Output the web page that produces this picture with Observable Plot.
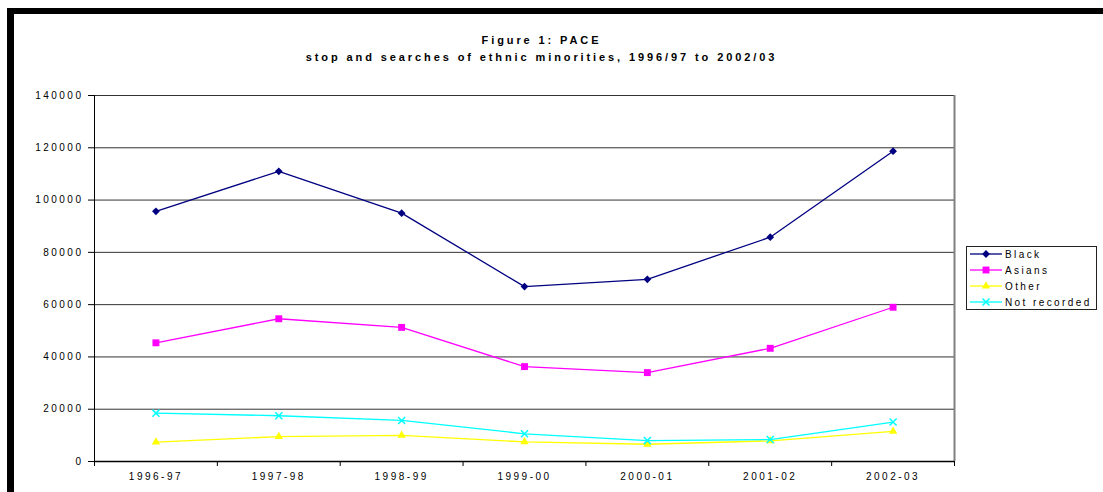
<!DOCTYPE html>
<html><head><meta charset="utf-8">
<script src="https://cdn.jsdelivr.net/npm/d3@7"></script>
<script src="https://cdn.jsdelivr.net/npm/@observablehq/plot@0.6"></script>
<style>
body{margin:0;background:#fff;}
#wrap{position:relative;width:1103px;height:492px;overflow:hidden;font-family:Arial,"Liberation Sans",sans-serif;background:#fff;}
#frame{position:absolute;left:7px;top:8px;right:-20px;bottom:-20px;border-top:6px solid #000;border-left:7px solid #000;}
#title{position:absolute;left:0;top:32px;width:1083px;text-align:center;font-weight:bold;font-size:11px;line-height:17px;letter-spacing:2.9px;color:#000;}
#chart{position:absolute;left:0;top:0;}
#chart svg text{letter-spacing:2.5px;}
#legend{position:absolute;left:966px;top:246px;width:129px;height:62px;border:1px solid #222;background:#fff;}
#legend svg text{letter-spacing:2.4px;}
</style></head>
<body>
<div id="wrap">
  <div id="frame"></div>
  <div id="chart"></div>
  <div id="title">Figure 1: PACE<br>stop and searches of ethnic minorities, 1996/97 to 2002/03</div>
  <div id="legend"></div>
</div>
<script>
const years = ["1996-97","1997-98","1998-99","1999-00","2000-01","2001-02","2002-03"];
const black = [95700,111000,95000,66900,69700,85800,118700];
const asians = [45400,54600,51300,36300,34000,43300,59000];
const other = [7400,9500,10000,7500,6600,7900,11500];
const notRecorded = [18500,17500,15700,10600,8000,8400,15100];
const yTicks = [0,20000,40000,60000,80000,100000,120000,140000];
const seriesNames = ["Black","Asians","Other","Not recorded"];
const seriesValues = [black, asians, other, notRecorded];
const colors = ["#000080","#FF00FF","#FFFF00","#00FFFF"];
const symbols = ["diamond2","square","triangle","times"];
const symbolR = [3.5,3.9,3.1,3.3];

const rows = [];
seriesNames.forEach((s, k) => seriesValues[k].forEach((v, i) => rows.push({series: s, i, year: years[i], value: v})));

const seriesMarks = [];
seriesNames.forEach((s, k) => {
  const data = rows.filter(d => d.series === s);
  seriesMarks.push(Plot.line(data, {x: "i", y: "value", stroke: colors[k], strokeWidth: 1.3}));
  if (symbols[k] === "times") {
    seriesMarks.push(Plot.dot(data, {x: "i", y: "value", symbol: symbols[k], r: symbolR[k], stroke: colors[k], strokeWidth: 1.5}));
  } else {
    seriesMarks.push(Plot.dot(data, {x: "i", y: "value", symbol: symbols[k], r: symbolR[k], fill: colors[k], stroke: "none"}));
  }
});

const n = years.length;
const chart = Plot.plot({
  width: 1103, height: 492,
  marginLeft: 94, marginRight: 149, marginTop: 95, marginBottom: 31,
  style: {fontFamily: 'Arial, "Liberation Sans", sans-serif', fontSize: "10px", color: "#000", background: "transparent", overflow: "visible"},
  x: {type: "linear", domain: [-0.5, n - 0.5]},
  y: {domain: [yTicks[0], yTicks[yTicks.length - 1]]},
  marks: [
    Plot.ruleY(yTicks, {stroke: "#333", strokeWidth: 1}),
    Plot.ruleX([n - 0.5], {stroke: "#808080", strokeWidth: 2}),
    Plot.ruleX([-0.5], {stroke: "#000", strokeWidth: 1}),
    Plot.ruleY([yTicks[0]], {stroke: "#000", strokeWidth: 1.5}),
    Plot.axisY({ticks: yTicks, tickSize: 6, tickPadding: 5, tickFormat: d3.format("d"), label: null, stroke: "#000"}),
    Plot.axisX({ticks: d3.range(n + 1).map(k => k - 0.5), tickSize: 5, tickFormat: () => "", label: null, stroke: "#000"}),
    Plot.axisX({ticks: d3.range(n), tickSize: 0, tickPadding: 11, tickFormat: i => years[i], label: null}),
    ...seriesMarks
  ]
});
document.getElementById("chart").appendChild(chart);

// legend
const lg = d3.select("#legend").append("svg").attr("width", 129).attr("height", 62);
seriesNames.forEach((s, k) => {
  const g = lg.append("g").attr("transform", `translate(0,${7 + k * 16})`);
  g.append("line").attr("x1", 3).attr("x2", 35).attr("y1", 0).attr("y2", 0).attr("stroke", colors[k]).attr("stroke-width", 1.3);
  const symMap = {diamond2: d3.symbolDiamond2, square: d3.symbolSquare, triangle: d3.symbolTriangle, times: d3.symbolTimes};
  const p = g.append("path").attr("transform", "translate(19,0)")
    .attr("d", d3.symbol(symMap[symbols[k]], Math.PI * symbolR[k] * symbolR[k])());
  if (symbols[k] === "times") p.attr("fill", "none").attr("stroke", colors[k]).attr("stroke-width", 1.5);
  else p.attr("fill", colors[k]);
  g.append("text").attr("x", 38).attr("y", 0).attr("dy", "0.35em")
    .attr("font-size", 10).attr("font-family", 'Arial, "Liberation Sans", sans-serif').attr("fill", "#000").text(s);
});
</script>
</body></html>
